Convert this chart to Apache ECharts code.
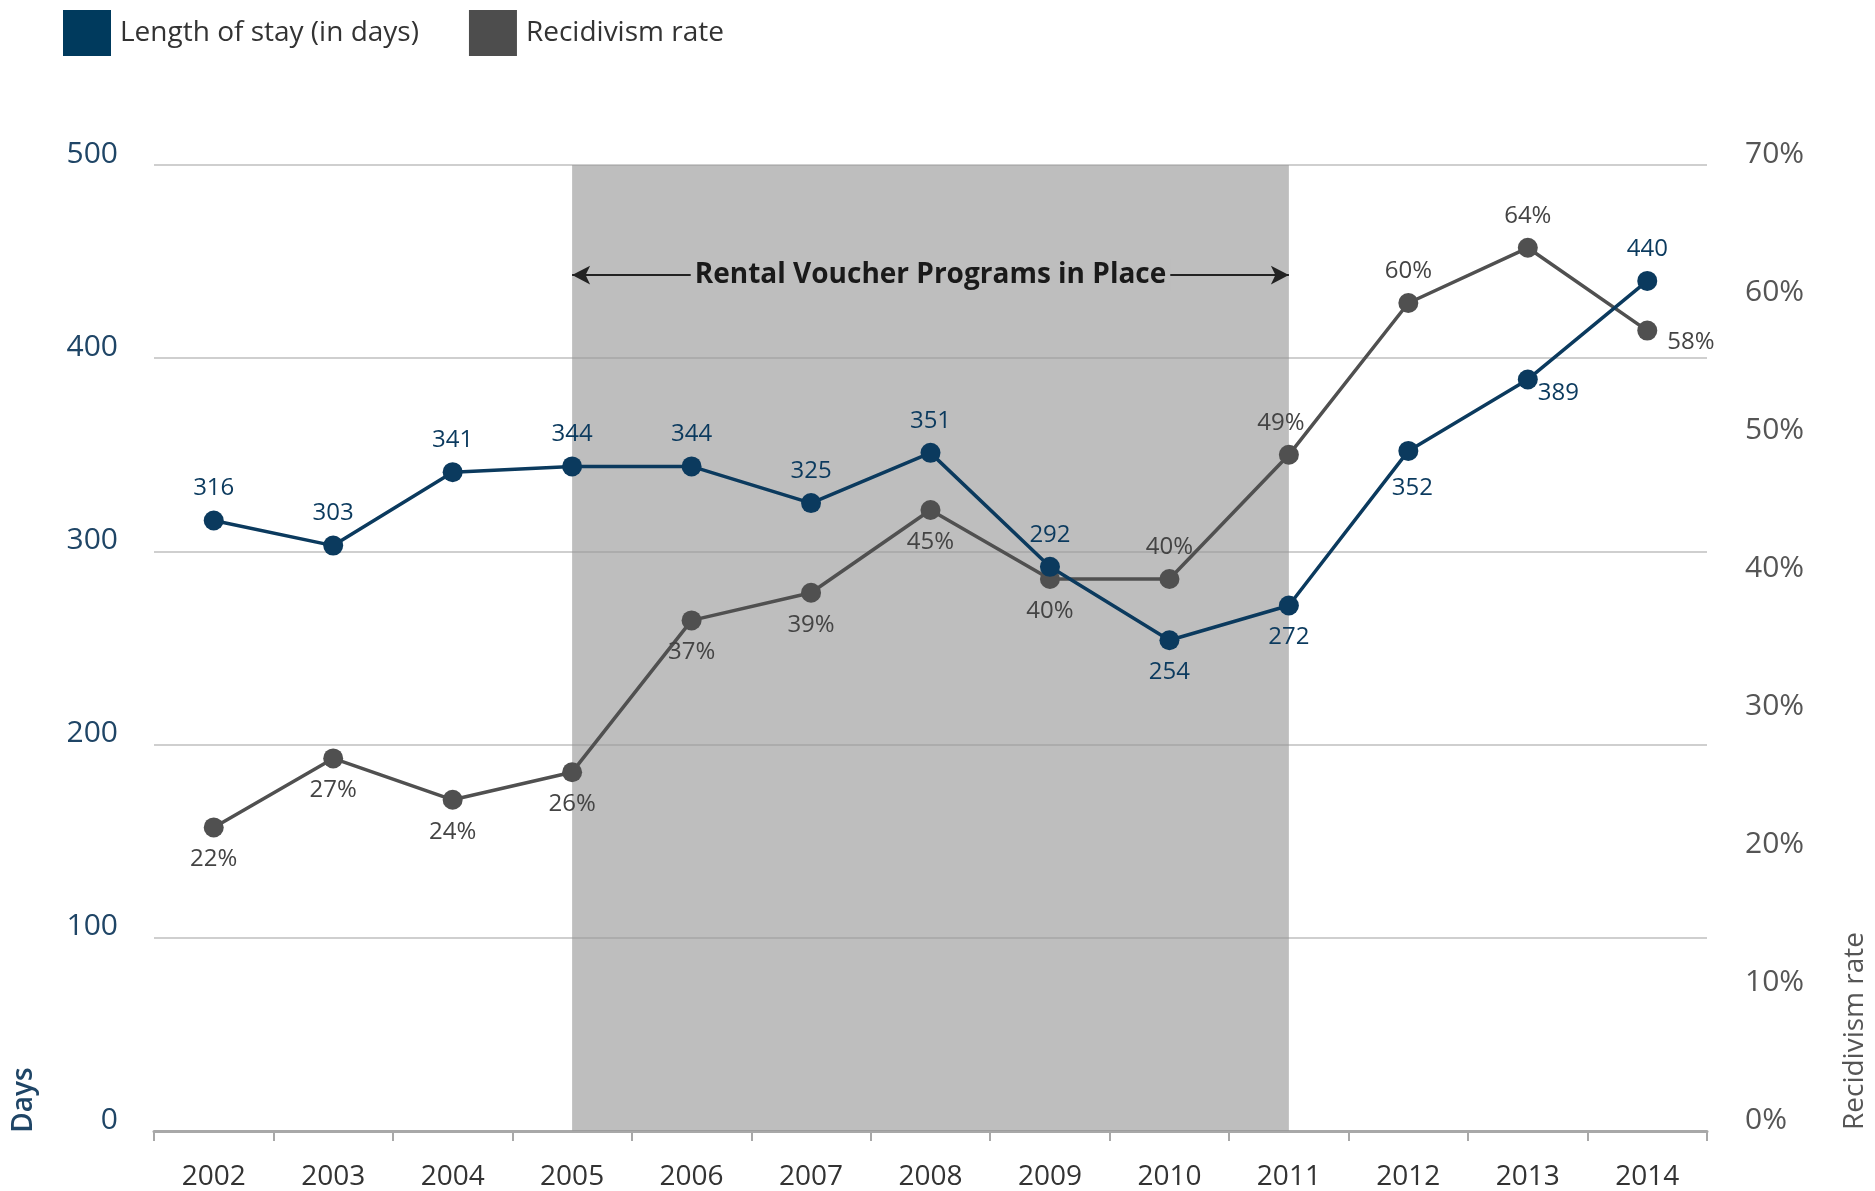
<!DOCTYPE html>
<html>
<head>
<meta charset="utf-8">
<script src="https://cdn.jsdelivr.net/npm/echarts@6/dist/echarts.min.js"></script>
<style>
html,body{margin:0;padding:0;background:#fff;}
#chart{width:1875px;height:1191px;}
</style>
</head>
<body>
<div id="chart"></div>
<script>
const years = ['2002','2003','2004','2005','2006','2007','2008','2009','2010','2011','2012','2013','2014'];
const lengthOfStay = [316, 303, 341, 344, 344, 325, 351, 292, 254, 272, 352, 389, 440];
const recidivism = [22, 27, 24, 26, 37, 39, 45, 40, 40, 49, 60, 64, 58];
const stayLabelPos = ['top','top','top','top','top','top','top','top','bottom','bottom','bottom','right','top'];
const rateLabelPos = ['bottom','bottom','bottom','bottom','bottom','bottom','bottom','bottom','top','top','top','top','right'];
const daysTicks = [0, 100, 200, 300, 400, 500];
const rateTicks = [0, 10, 20, 30, 40, 50, 60, 70];
const programStart = '2005';
const programEnd = '2011';
const programLabel = 'Rental Voucher Programs in Place';
const programArrowLevel = 443;

const FONT = '"Open Sans", "Noto Sans", sans-serif';
const BLUE = '#0b3a5e';
const GREY = '#505050';

const chart = echarts.init(document.getElementById('chart'), null, {renderer:'canvas'});

const stayData = lengthOfStay.map((v, i) => {
  const item = {value: v, label: {position: stayLabelPos[i]}};
  if (years[i] === '2012') item.label.offset = [4, 5];
  if (years[i] === '2013') item.label.offset = [-10, 14];
  return item;
});
const rateData = recidivism.map((v, i) => {
  const item = {value: v, label: {position: rateLabelPos[i]}};
  if (years[i] === '2011') item.label.offset = [-8, 0];
  if (years[i] === '2014') item.label.offset = [0, 12];
  return item;
});

const option = {
  backgroundColor: '#fff',
  animation: false,
  textStyle: {fontFamily: FONT},
  legend: {
    left: 58, top: 5,
    itemWidth: 48, itemHeight: 46, itemGap: 50,
    icon: 'rect',
    textStyle: {fontSize: 28, color: '#333', fontFamily: FONT, padding: [0,0,0,4]},
    data: [
      {name: 'Length of stay (in days)', itemStyle: {color: '#003a5d'}},
      {name: 'Recidivism rate', itemStyle: {color: '#4d4d4d'}}
    ]
  },
  grid: {left: 154, right: 168, top: 165, bottom: 57, containLabel: false},
  xAxis: {
    type: 'category',
    data: years,
    boundaryGap: true,
    axisLine: {lineStyle: {color: '#a8a8a8', width: 3}},
    axisTick: {show: true, length: 10, lineStyle: {color: '#a8a8a8', width: 2}},
    axisLabel: {fontSize: 28, color: '#333', margin: 32, fontFamily: FONT},
    splitLine: {show: false}
  },
  yAxis: [
    {
      type: 'value', min: daysTicks[0], max: daysTicks[daysTicks.length-1], interval: 100,
      axisLine: {show: false}, axisTick: {show: false},
      axisLabel: {fontSize: 30, color: '#1f4566', margin: 36, fontFamily: FONT,
        verticalAlign: 'bottom', lineHeight: 22},
      splitLine: {lineStyle: {color: '#cfcfcf', width: 2}}
    },
    {
      type: 'value', min: rateTicks[0], max: rateTicks[rateTicks.length-1], interval: 10,
      axisLine: {show: false}, axisTick: {show: false},
      axisLabel: {fontSize: 30, color: '#555', margin: 38, fontFamily: FONT,
        formatter: '{value}%', verticalAlign: 'bottom', lineHeight: 22},
      splitLine: {show: false}
    }
  ],
  graphic: [
    {type: 'text', x: 24, y: 1100, rotation: Math.PI/2,
     style: {text: 'Days', fontSize: 28, fontWeight: 600, fill: '#1f4566', fontFamily: FONT, textAlign: 'center', textVerticalAlign: 'middle'}},
    {type: 'text', x: 1855, y: 1031, rotation: Math.PI/2,
     style: {text: 'Recidivism rate', fontSize: 28, fill: '#555', fontFamily: FONT, textAlign: 'center', textVerticalAlign: 'middle'}}
  ],
  series: [
    {
      name: 'Length of stay (in days)',
      type: 'line',
      yAxisIndex: 0,
      data: stayData,
      z: 4,
      symbol: 'circle', symbolSize: 20,
      lineStyle: {color: BLUE, width: 3.5},
      itemStyle: {color: BLUE},
      label: {show: true, fontSize: 24, color: BLUE, distance: 10, fontFamily: FONT},
      markArea: {
        silent: true,
        itemStyle: {color: 'rgba(150,150,150,0.62)'},
        data: [[{xAxis: programStart}, {xAxis: programEnd}]]
      },
      markLine: {
        silent: true,
        symbol: ['arrow', 'arrow'],
        symbolSize: [14, 18],
        lineStyle: {color: '#222', width: 2, type: 'solid'},
        label: {show: true, position: 'insideMiddle', formatter: programLabel,
          fontSize: 28, fontWeight: 'bold', color: '#1a1a1a', fontFamily: FONT,
          backgroundColor: '#bebebe', padding: [2, 4, 2, 4], distance: 0},
        data: [[{coord: [programStart, programArrowLevel]}, {coord: [programEnd, programArrowLevel]}]]
      }
    },
    {
      name: 'Recidivism rate',
      type: 'line',
      yAxisIndex: 1,
      data: rateData,
      z: 3,
      symbol: 'circle', symbolSize: 20,
      lineStyle: {color: GREY, width: 3.5},
      itemStyle: {color: GREY},
      label: {show: true, fontSize: 24, color: '#444', distance: 10, fontFamily: FONT, formatter: '{c}%'}
    }
  ]
};
chart.setOption(option);
</script>
</body>
</html>
